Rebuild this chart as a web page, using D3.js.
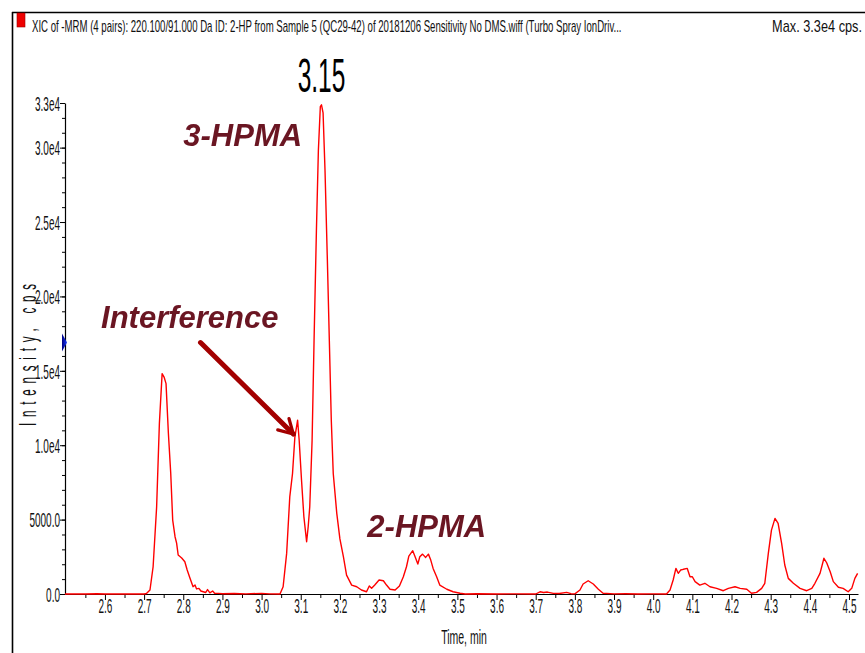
<!DOCTYPE html>
<html>
<head>
<meta charset="utf-8">
<script src="https://cdn.jsdelivr.net/npm/d3@7"></script>
<style>
  html, body { margin: 0; padding: 0; background: #fff; }
  svg { display: block; }
  text { font-family: "Liberation Sans", Arial, sans-serif; }
</style>
</head>
<body>
<svg id="chart" width="865" height="653"></svg>
<script>
// ---- data ----
const times = [2.498,2.52,2.55,2.58,2.60,2.63,2.66,2.70,
  2.706,2.715,2.723,2.732,2.739,2.746,2.751,2.756,2.762,2.768,2.773,2.779,2.783,2.787,2.796,2.804,2.810,2.817,2.825,2.830,2.834,2.840,2.845,2.851,2.857,2.862,2.868,2.875,2.880,2.89,2.90,2.93,2.96,3.00,3.02,3.047,
  3.055,3.064,3.072,3.079,3.085,3.092,3.096,3.102,3.108,3.115,3.119,3.123,3.129,3.134,3.140,3.145,3.150,3.153,3.157,3.162,3.168,3.173,3.178,3.183,3.192,3.200,3.209,3.217,3.230,3.243,3.255,3.268,3.275,3.281,3.289,3.300,3.311,3.319,3.328,3.341,3.352,3.362,3.370,3.376,3.386,3.392,3.399,3.404,3.411,3.419,3.426,3.432,3.438,3.447,3.455,3.473,3.489,3.507,3.52,3.55,3.60,3.65,3.70,
  3.711,3.72,3.73,3.745,3.76,3.779,3.79,3.80,3.813,3.821,3.834,3.847,3.860,3.872,3.90,3.93,3.96,4.00,4.034,
  4.043,4.051,4.058,4.064,4.070,4.077,4.087,4.094,4.100,4.107,4.119,4.132,4.145,4.162,4.179,4.192,4.209,4.222,4.239,4.251,4.264,4.277,4.285,4.294,4.302,4.311,4.319,4.328,4.336,4.345,4.358,4.375,4.392,4.405,4.413,4.426,4.436,4.443,4.452,4.460,4.473,4.485,4.498,4.507,4.515,4.522];
const intensity = [0,10,0,15,0,10,0,0,
  30,270,1830,5860,11450,14810,14580,14140,10800,8120,4970,3850,3420,2620,2420,2170,1610,1070,490,600,340,380,200,150,100,300,80,200,50,40,20,30,10,40,10,0,
  490,2730,6530,8100,10550,11680,10330,7650,5190,3510,4520,5860,10330,17040,24420,29790,32750,32880,32340,28450,22410,17040,11680,8100,5420,3700,2500,1270,600,490,270,150,540,380,600,940,890,600,320,270,540,1160,1830,2550,2910,2500,2010,2500,2680,2460,2680,2280,1720,1160,600,320,150,50,0,20,0,10,0,
  150,100,130,40,30,110,20,10,270,670,890,670,320,50,10,20,0,10,0,
  270,940,1720,1390,1610,1660,1720,1160,1160,830,600,720,490,380,220,380,490,380,320,50,110,380,720,2730,4290,5080,4740,3400,1950,1050,720,380,220,380,720,1390,2400,2100,1500,830,450,380,150,380,1050,1390];

const yTickValues = [0, 5000, 10000, 15000, 20000, 25000, 30000, 33000];
const yTickLabels = ["0.0", "5000.0", "1.0e4", "1.5e4", "2.0e4", "2.5e4", "3.0e4", "3.3e4"];
const xTickValues = [2.6,2.7,2.8,2.9,3.0,3.1,3.2,3.3,3.4,3.5,3.6,3.7,3.8,3.9,4.0,4.1,4.2,4.3,4.4,4.5];
const xTickLabels = ["2.6","2.7","2.8","2.9","3.0","3.1","3.2","3.3","3.4","3.5","3.6","3.7","3.8","3.9","4.0","4.1","4.2","4.3","4.4","4.5"];

const titleText = "XIC of -MRM (4 pairs): 220.100/91.000 Da ID: 2-HP from Sample 5 (QC29-42) of 20181206 Sensitivity No DMS.wiff (Turbo Spray IonDriv...";
const maxText = "Max. 3.3e4 cps.";
const peakLabel = "3.15";
const annotations = [
  { text: "3-HPMA", t: 2.80, v: 30100 },
  { text: "Interference", t: 2.59, v: 17900 },
  { text: "2-HPMA", t: 3.27, v: 3830 }
];

// ---- layout ----
const svg = d3.select("#chart");
const x = d3.scaleLinear().domain([2.498, 4.523]).range([65, 858]);
const y = d3.scaleLinear().domain([0, 33000]).range([594, 103]);

const defs = svg.append("defs");
const blur = defs.append("filter").attr("id", "soft").attr("x", "-10%").attr("y", "-20%").attr("width", "120%").attr("height", "140%");
blur.append("feGaussianBlur").attr("stdDeviation", 0.6);
const grad = defs.append("linearGradient").attr("id", "blueTri").attr("x1", 0).attr("x2", 1).attr("y1", 0).attr("y2", 0);
grad.append("stop").attr("offset", "0%").attr("stop-color", "#000080");
grad.append("stop").attr("offset", "100%").attr("stop-color", "#1a3cff");
defs.append("marker").attr("id", "arrowHead").attr("viewBox", "0 0 10 10")
  .attr("refX", 8).attr("refY", 5).attr("markerWidth", 4).attr("markerHeight", 4)
  .attr("markerUnits", "strokeWidth").attr("orient", "auto")
  .append("path").attr("d", "M1,1 L8,5 L1,9").attr("fill", "none")
  .attr("stroke", "#a30000").attr("stroke-width", 1.6).attr("stroke-linecap", "round");

// frame
svg.append("line").attr("x1", 12).attr("x2", 865).attr("y1", 12.5).attr("y2", 12.5).attr("stroke", "#000").attr("stroke-width", 1.6);
svg.append("line").attr("x1", 12.5).attr("x2", 12.5).attr("y1", 12).attr("y2", 653).attr("stroke", "#000").attr("stroke-width", 1.6);

// red square
svg.append("rect").attr("x", 17).attr("y", 13).attr("width", 8).attr("height", 14).attr("fill", "#ee0000").attr("stroke", "#990000").attr("stroke-width", 0.6);

// condensed text helper: scales glyphs horizontally to a target width
function fitText(txt, xPos, yPos, size, width, anchor) {
  const t = svg.append("text").attr("font-size", size).attr("fill", "#111")
    .attr("text-anchor", anchor).text(txt);
  const natural = t.node().getComputedTextLength();
  const sx = width / natural;
  t.attr("transform", `translate(${xPos},${yPos}) scale(${sx},1)`);
  return t;
}
fitText(titleText, 32, 32, 16, 590, "start");
fitText(maxText, 862, 32, 16, 90, "end");

// axes
const yMinor = d3.range(1000, 33001, 1000);
svg.append("g").attr("transform", "translate(65,0)")
  .call(d3.axisLeft(y).tickValues(yMinor).tickSize(3).tickFormat(""))
  .call(g => g.select(".domain").remove());
const yAx = svg.append("g").attr("transform", "translate(65,0)")
  .call(d3.axisLeft(y).tickValues(yTickValues).tickSize(5).tickSizeOuter(0)
    .tickFormat((d, i) => yTickLabels[i]));
yAx.selectAll("text").attr("font-size", 20).attr("x", -10).attr("dy", "0.36em")
  .attr("transform", "scale(0.5,1)").attr("fill", "#111");
yAx.select(".domain").attr("stroke-width", 1.2);

const xMinor = d3.range(2.55, 4.52, 0.1);
svg.append("g").attr("transform", "translate(0,594)")
  .call(d3.axisBottom(x).tickValues(xMinor).tickSize(4).tickFormat(""))
  .call(g => g.select(".domain").remove());
const xAx = svg.append("g").attr("transform", "translate(0,594)")
  .call(d3.axisBottom(x).tickValues(xTickValues).tickSize(6).tickSizeOuter(0)
    .tickFormat((d, i) => xTickLabels[i]));
xAx.selectAll("text").attr("font-size", 20).attr("y", 19).attr("dy", 0)
  .attr("transform", "scale(0.5,1)").attr("fill", "#111");
xAx.select(".domain").attr("stroke-width", 1.2);

// axis titles
svg.append("text").attr("transform", "translate(464,644) scale(0.5,1)").attr("text-anchor", "middle")
  .attr("font-size", 21).attr("fill", "#111").text("Time, min");
svg.append("text").attr("transform", "translate(36,355) rotate(-90) scale(0.5,1)").attr("text-anchor", "middle")
  .attr("font-size", 23).attr("textLength", 284).attr("lengthAdjust", "spacing").attr("fill", "#111")
  .text("Intensity, cps");

// blue marker on y axis
const ym = y(16900);
svg.append("path").attr("d", `M62,${ym - 9} L67,${ym} L62,${ym + 9} Z`).attr("fill", "url(#blueTri)");

// chromatogram
const data = d3.zip(times, intensity);
svg.append("path").datum(data)
  .attr("d", d3.line().x(d => x(d[0])).y(d => y(d[1])))
  .attr("fill", "none").attr("stroke", "#ff0000").attr("stroke-width", 1.4).attr("stroke-linejoin", "round");

// peak label
svg.append("text").attr("transform", `translate(${x(3.153)},92) scale(0.5,1)`).attr("text-anchor", "middle")
  .attr("font-size", 49).attr("fill", "#000").text(peakLabel);

// annotations
annotations.forEach(a => {
  svg.append("text").attr("x", x(a.t)).attr("y", y(a.v))
    .attr("font-size", 31).attr("font-weight", "bold").attr("font-style", "italic")
    .attr("fill", "#6b1424").attr("filter", "url(#soft)").text(a.text);
});

// arrow
svg.append("line").attr("x1", x(2.844)).attr("y1", y(16900)).attr("x2", x(3.081)).attr("y2", y(10750))
  .attr("stroke", "#a30000").attr("stroke-width", 5).attr("stroke-linecap", "round")
  .attr("marker-end", "url(#arrowHead)");
</script>
</body>
</html>
